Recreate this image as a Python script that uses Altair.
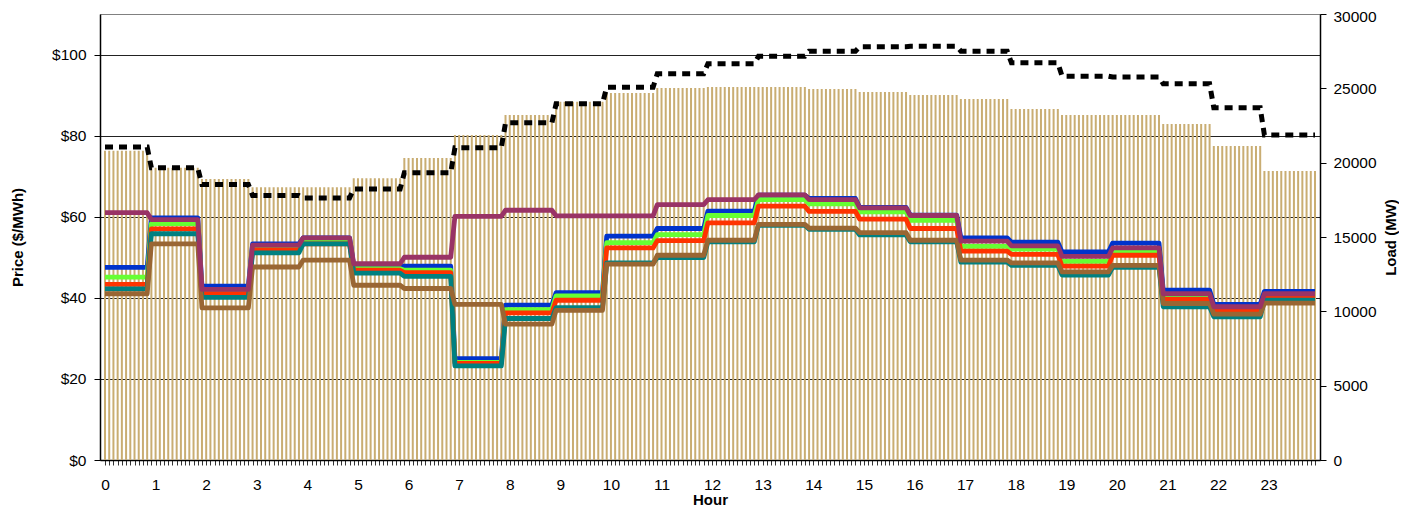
import altair as alt
import pandas as pd

# ---------------- data (hourly values) ----------------
hour_labels = [str(h) for h in range(24)]

# bars: load (MW), right axis
load_mw = [20800, 19650, 18900, 18340, 18340, 18950, 20310, 21860, 23200, 24100,
           24690, 25020, 25090, 25090, 24950, 24750, 24550, 24280, 23610, 23200,
           23200, 22600, 21120, 19440]

# dashed black line (right axis)
load_dashed = [21050, 19650, 18530, 17790, 17620, 18230, 19320, 21000, 22680, 23960,
               25080, 25980, 26650, 27160, 27500, 27800, 27830, 27500, 26720, 25820,
               25760, 25300, 23690, 21860]

# price series ($/MWh), left axis
price_blue = [47.5, 59.7, 42.9, 53.3, 54.8, 47.9, 47.8, 25.0, 38.2, 41.3, 55.2, 57.1,
              61.4, 65.3, 64.5, 62.3, 60.4, 54.8, 53.7, 51.3, 53.5, 41.9, 38.4, 41.6]
price_green = [45.1, 58.3, 41.5, 52.3, 54.0, 47.2, 46.8, 24.1, 37.1, 40.5, 53.6, 55.6,
               60.3, 64.2, 63.2, 61.2, 59.1, 52.7, 52.0, 49.0, 51.5, 40.2, 37.1, 40.5]
price_red = [43.3, 57.0, 41.0, 51.8, 53.3, 46.8, 46.2, 23.8, 36.3, 39.4, 52.3, 54.1,
             58.5, 62.6, 61.3, 59.4, 57.1, 51.5, 50.7, 47.8, 50.5, 39.6, 36.7, 40.1]
price_teal = [42.2, 55.8, 40.1, 51.1, 53.3, 46.1, 45.3, 23.2, 34.9, 37.6, 48.6, 49.9,
              53.8, 57.9, 56.9, 55.5, 53.8, 48.8, 48.0, 45.6, 47.5, 37.8, 35.3, 39.4]
price_brown = [41.0, 53.3, 37.5, 47.6, 49.3, 43.1, 42.3, 38.4, 33.5, 36.9, 48.3, 50.5,
               54.2, 58.1, 57.2, 56.1, 54.2, 49.3, 48.6, 46.4, 48.0, 38.6, 36.0, 38.7]
price_purple = [61.0, 59.3, 42.1, 53.0, 54.8, 48.4, 50.0, 60.1, 61.6, 60.2, 60.2, 63.0,
                64.2, 65.4, 64.2, 62.2, 60.3, 54.0, 52.8, 50.2, 52.3, 41.0, 37.8, 41.0]

series = [
    ("s1", price_blue, "#0033CC"),
    ("s2", price_green, "#66FF33"),
    ("s3", price_red, "#FF3300"),
    ("s4", price_teal, "#008080"),
    ("s5", price_brown, "#996633"),
    ("s6", price_purple, "#993366"),
]

# 5-minute intervals (12 per hour)
N = 288
idx = list(range(N))
hour_of = [min(23, (i + 1) // 12) for i in idx]

df_load = pd.DataFrame({
    "idx": idx,
    "load": [load_mw[h] for h in hour_of],
    "dashed": [load_dashed[h] for h in hour_of],
})

FONT = "Liberation Sans"

x_axis = alt.Axis(
    title="Hour",
    values=idx,
    labelExpr="datum.value % 12 == 0 ? format(datum.value / 12, 'd') : ''",
    labelOverlap=False,
    labelFlush=False,
    tickSize=5,
    tickColor="#333333",
    labelPadding=12,
    titlePadding=0,
    grid=False,
    domainColor="#000000",
)
x_scale = alt.Scale(domain=[0, N - 1], nice=False, zero=False)


def xenc():
    return alt.X("idx:Q", scale=x_scale, axis=x_axis)


load_scale = alt.Scale(domain=[0, 30000], nice=False)
load_axis = alt.Axis(
    orient="right",
    title="Load (MW)",
    values=[0, 5000, 10000, 15000, 20000, 25000, 30000],
    format="d",
    grid=False,
    tickSize=6,
    labelPadding=7,
    labelBaseline={"condition": {"test": "datum.value == 30000", "value": "top"}, "value": "middle"},
    labelOffset={"condition": {"test": "datum.value == 30000", "value": -5}, "value": 0},
    titlePadding=22,
    titleAngle=270,
    domainColor="#000000",
    tickColor="#000000",
)

bars = alt.Chart(df_load).mark_bar(size=2, color="#C9AD72", clip=True).encode(
    x=xenc(),
    y=alt.Y("load:Q", scale=load_scale, axis=load_axis),
)

dashed = alt.Chart(df_load).mark_line(
    color="#000000", strokeWidth=5, strokeDash=[8, 6], strokeCap="butt", clip=True
).encode(
    x=xenc(),
    y=alt.Y("dashed:Q", scale=load_scale, axis=load_axis),
)

load_layer = alt.layer(bars, dashed)

price_scale = alt.Scale(domain=[0, 110], nice=False)
price_axis = alt.Axis(
    orient="left",
    title="Price ($/MWh)",
    values=[0, 20, 40, 60, 80, 100],
    labelExpr="'$' + datum.value",
    grid=True,
    gridColor="#222222",
    gridWidth=1,
    tickSize=6,
    labelPadding=8,
    titlePadding=26,
    domainColor="#000000",
    tickColor="#000000",
)

price_layers = []
for name, vals, col in series:
    dfp = pd.DataFrame({"idx": idx, "price": [vals[h] for h in hour_of]})
    price_layers.append(
        alt.Chart(dfp).mark_line(color=col, strokeWidth=4.8, strokeJoin="round", clip=True).encode(
            x=xenc(),
            y=alt.Y("price:Q", scale=price_scale, axis=price_axis),
        )
    )
price_layer = alt.layer(*price_layers)

chart = alt.layer(load_layer, price_layer).resolve_scale(y="independent").properties(
    width=1220,
    height=446,
    autosize=alt.AutoSizeParams(type="none"),
    padding={"left": 92, "top": 6, "right": 79, "bottom": 48},
).configure_view(
    stroke="#808080", strokeWidth=1
).configure_axis(
    labelFont=FONT,
    titleFont=FONT,
    labelFontSize=15.5,
    titleFontSize=15,
    titleFontWeight="bold",
    labelColor="#000000",
    titleColor="#000000",
    domainWidth=1.5,
)

chart.save("out.html", embed_options={"renderer": "svg", "actions": False})
